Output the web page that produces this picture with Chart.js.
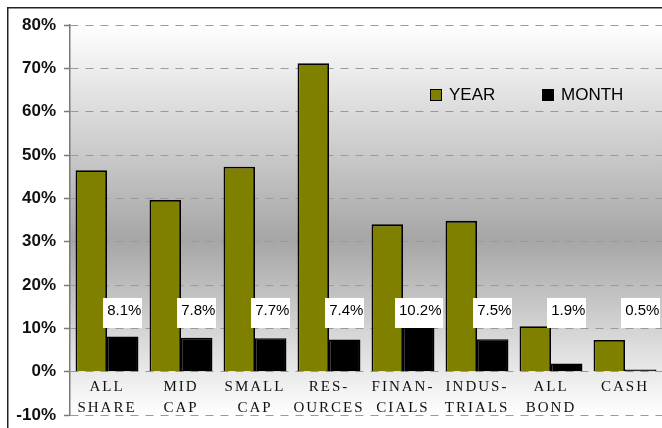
<!DOCTYPE html>
<html>
<head>
<meta charset="utf-8">
<script src="https://cdn.jsdelivr.net/npm/chart.js@4/dist/chart.umd.min.js"></script>
<style>
  html, body { margin: 0; padding: 0; background: #fff; }
  #wrap { width: 662px; height: 428px; position: relative; }
</style>
</head>
<body>
<div id="wrap"><canvas id="c" width="662" height="428"></canvas></div>
<script>
const categories = [
  ["ALL", "SHARE"], ["MID", "CAP"], ["SMALL", "CAP"], ["RES-", "OURCES"],
  ["FINAN-", "CIALS"], ["INDUS-", "TRIALS"], ["ALL", "BOND"], ["CASH"]
];
const yearValues  = [46.5, 39.6, 47.3, 71.2, 34.0, 34.8, 10.5, 7.3];
const monthValues = [8.1, 7.8, 7.7, 7.4, 10.2, 7.5, 1.9, 0.5];
const monthLabels = ["8.1%", "7.8%", "7.7%", "7.4%", "10.2%", "7.5%", "1.9%", "0.5%"];
const seriesNames = ["YEAR", "MONTH"];
const yMin = -10, yMax = 80, yStep = 10;
const labelLevel = 13.5;

const bgPlugin = {
  id: 'bg',
  beforeDraw(chart) {
    const ctx = chart.ctx, a = chart.chartArea;
    ctx.save();
    ctx.fillStyle = '#ffffff';
    ctx.fillRect(0, 0, chart.width, chart.height);
    const g = ctx.createLinearGradient(0, a.top, 0, a.bottom);
    g.addColorStop(0, '#ffffff');
    g.addColorStop(0.55, '#a6a6a6');
    g.addColorStop(1, '#ffffff');
    ctx.fillStyle = g;
    ctx.fillRect(a.left, a.top, a.right - a.left, a.bottom - a.top);
    ctx.restore();
  },
  afterDraw(chart) {
    const ctx = chart.ctx;
    ctx.save();
    ctx.strokeStyle = '#222';
    ctx.lineWidth = 1.5;
    ctx.beginPath();
    ctx.moveTo(7.75, chart.height + 5);
    ctx.lineTo(7.75, 7.75);
    ctx.lineTo(chart.width + 5, 7.75);
    ctx.stroke();
    // legend
    ctx.font = '17px "Liberation Sans", Arial, sans-serif';
    ctx.textBaseline = 'middle';
    ctx.textAlign = 'left';
    const items = [
      { x: 430, tx: 449 },
      { x: 542, tx: 561 }
    ];
    chart.data.datasets.forEach((ds, i) => {
      const it = items[i];
      ctx.fillStyle = ds.backgroundColor;
      ctx.fillRect(it.x, 89.5, 11, 11);
      ctx.strokeStyle = '#000';
      ctx.lineWidth = 1;
      ctx.strokeRect(it.x + 0.5, 89.5, 11, 11);
      ctx.fillStyle = '#000';
      ctx.fillText(ds.label, it.tx, 95.5);
    });
    ctx.restore();
  }
};

const labelPlugin = {
  id: 'monthLabels',
  afterDatasetsDraw(chart) {
    const ctx = chart.ctx;
    const meta = chart.getDatasetMeta(1);
    const y = chart.scales.y.getPixelForValue(labelLevel);
    ctx.save();
    ctx.font = '15px "Liberation Sans", Arial, sans-serif';
    ctx.textAlign = 'center';
    ctx.textBaseline = 'middle';
    meta.data.forEach((bar, i) => {
      const t = monthLabels[i];
      const w = ctx.measureText(t).width + 5;
      const h = 30;
      ctx.fillStyle = '#ffffff';
      ctx.fillRect(Math.round(bar.x - w / 2), Math.round(y - h / 2), Math.round(w), h);
      ctx.fillStyle = '#000';
      ctx.fillText(t, bar.x + 1.5, y - 2);
    });
    ctx.restore();
  }
};

const spacingPlugin = {
  id: 'spacing',
  afterLayout(chart) {
    const s = chart.scales.x;
    if (s && !s._spaced) {
      const orig = s.drawLabels;
      s.drawLabels = function (area) {
        this.ctx.save();
        this.ctx.letterSpacing = '2px';
        orig.call(this, area);
        this.ctx.restore();
      };
      s._spaced = true;
    }
  }
};

function zeroPad(scale) {
  scale.paddingTop = 0; scale.paddingBottom = 0;
  scale.paddingLeft = 0; scale.paddingRight = 0;
}

new Chart(document.getElementById('c'), {
  type: 'bar',
  data: {
    labels: categories,
    datasets: [
      { label: seriesNames[0], data: yearValues, backgroundColor: '#808000', borderColor: '#000', borderWidth: 1.8 },
      { label: seriesNames[1], data: monthValues, backgroundColor: '#000000', borderColor: '#000', borderWidth: 1.5 }
    ]
  },
  options: {
    responsive: false,
    animation: false,
    layout: { padding: { left: 0, top: 25, right: -4, bottom: 13 } },
    datasets: { bar: { categoryPercentage: 0.85, barPercentage: 1.0 } },
    plugins: { legend: { display: false }, tooltip: { enabled: false } },
    scales: {
      x: {
        position: { y: 0 },
        afterFit(scale) { scale.height = 0; zeroPad(scale); },
        grid: { display: false, drawTicks: false },
        border: { display: false },
        ticks: {
          padding: 5,
          maxRotation: 0,
          autoSkip: false,
          color: '#111',
          font: { family: '"Liberation Serif", "Times New Roman", serif', size: 15, lineHeight: 1.4 }
        }
      },
      y: {
        min: yMin, max: yMax,
        afterFit(scale) { scale.width = 70; zeroPad(scale); },
        border: { display: true, color: '#7a7a7a', width: 1.5, dash: [8, 7] },
        grid: {
          display: true, drawOnChartArea: true,
          color: '#9a9a9a', lineWidth: 1,
          drawTicks: true, tickLength: 6, tickColor: '#7a7a7a', tickBorderDash: [], tickWidth: 1.5
        },
        ticks: {
          stepSize: yStep,
          padding: 8,
          color: '#111',
          font: { family: '"Liberation Sans", Arial, sans-serif', size: 17, weight: 'bold' },
          callback: (v) => v + '%'
        }
      }
    }
  },
  plugins: [bgPlugin, labelPlugin, spacingPlugin]
});
</script>
</body>
</html>
